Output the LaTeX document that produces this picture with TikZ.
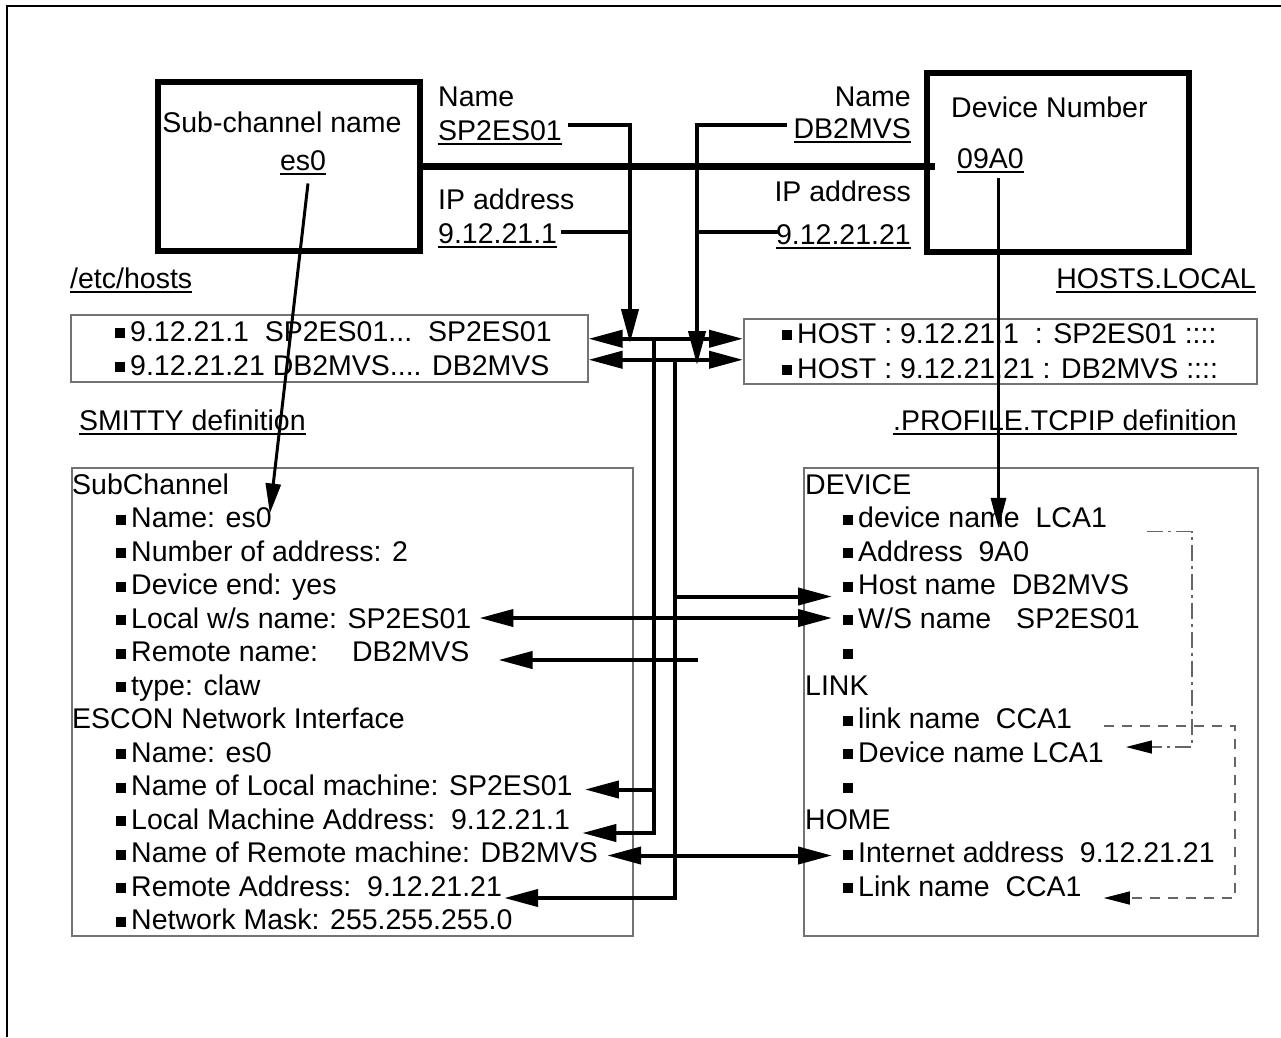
\documentclass[tikz,border=0pt]{standalone}
\usepackage{fontspec}
\setmainfont{Liberation Sans}
\usetikzlibrary{arrows.meta,positioning,calc}
\newsavebox{\ulbox}
\newcommand{\undl}[1]{\sbox{\ulbox}{#1}\rlap{\rule[-5pt]{\wd\ulbox}{2pt}}\usebox{\ulbox}}
\newcommand{\bul}{\rule[3pt]{10pt}{10pt}\hspace{5pt}}

\begin{document}
\begin{tikzpicture}[x=1pt,y=-1pt,
    every node/.style={font=\fontsize{28.5}{33.5}\selectfont,inner sep=0pt,text height=20.5pt,text depth=0pt},
    thickbox/.style={draw,line width=6pt},
    listbox/.style={draw=black!55,line width=1.5pt},
    wire/.style={line width=4pt},
    arr/.style={-{Triangle[length=34pt,width=17pt]}},
    darr/.style={{Triangle[length=34pt,width=17pt]}-{Triangle[length=34pt,width=17pt]}},
    pointer/.style={line width=3pt,-{Triangle[length=30pt,width=15pt]}},
    sarr/.style={-{Triangle[length=26pt,width=13pt,color=black]}},
    chainline/.style={draw=black!60,line width=1.3pt,dash pattern=on 16pt off 5pt on 3pt off 5pt},
    dashline/.style={draw=black!60,line width=1.3pt,dash pattern=on 10pt off 8pt}]
  \useasboundingbox (0,0) rectangle (1281,1037);
  \draw[line width=2pt] (7,1037) -- (7,6) -- (1281,6);

  %% Channel ends
  \node[thickbox,minimum width=262pt,minimum height=169pt,anchor=north west] (subbox) at (155,79) {};
  \node[thickbox,minimum width=262pt,minimum height=179pt,anchor=north west] (devbox) at (924,70) {};
  \node (subname) at (282,122) {Sub-channel name};
  \node (es) at (303,160) {\undl{es0}};
  \node[anchor=west] (devnum) at (951,107) {Device Number};
  \node[anchor=west] (devno) at (957,158) {\undl{09A0}};
  \draw[line width=6.5pt] (subbox.east) -- ($(subbox.east -| devbox.west)+(11,0)$);

  %% Link labels
  \node[anchor=west] (nameL) at (438,96) {Name};
  \node[anchor=west] (spname) at (438,130) {\undl{SP2ES01}};
  \node[anchor=west] (ipL) at (438,199) {IP address};
  \node[anchor=west] (spip) at (438,233) {\undl{9.12.21.1}};
  \node[anchor=east] (nameR) at (911,96) {Name};
  \node[anchor=east] (dbname) at (911,128) {\undl{DB2MVS}};
  \node[anchor=east] (ipR) at (911,191) {IP address};
  \node[anchor=east] (dbip) at (911,234) {\undl{9.12.21.21}};

  %% Host tables
  \node[anchor=west] (etchosts) at (70,278) {\undl{/etc/hosts}};
  \node[anchor=east] (hostslocal) at (1256,278) {\undl{HOSTS.LOCAL}};
  \node[listbox,minimum width=517pt,minimum height=67pt,anchor=north west] (hostsL) at (70,314) {};
  \node[listbox,minimum width=513pt,minimum height=65pt,anchor=north west] (hostsR) at (743,318) {};
  \node[anchor=west] (hl1) at (115,331) {\bul 9.12.21.1~~SP2ES01...~~SP2ES01};
  \node[anchor=west] (hl2) at (115,365) {\bul 9.12.21.21 DB2MVS.... DB2MVS};
  \node[anchor=west] (hr1) at (782,333) {\bul HOST : 9.12.21.1~~: SP2ES01 ::::};
  \node[anchor=west] (hr2) at (782,368) {\bul HOST : 9.12.21.21 : DB2MVS ::::};

  %% SMITTY definition
  \node[anchor=west] (smittyl) at (79,420) {\undl{SMITTY definition}};
  \node[listbox,minimum width=561pt,minimum height=468pt,anchor=north west] (smitty) at (71,467) {};
  \node[anchor=west] (subch) at (72,484) {SubChannel};
  \node[anchor=west] (scname) at (116,517.5) {\bul Name: es0};
  \node[anchor=west] (scnum) at (116,551) {\bul Number of address: 2};
  \node[anchor=west] (scdev) at (116,584.5) {\bul Device end: yes};
  \node[anchor=west] (sclocal) at (116,618) {\bul Local w/s name: SP2ES01};
  \node[anchor=west] (scremote) at (116,651.5) {\bul Remote name:\hspace{34pt}DB2MVS};
  \node[anchor=west] (sctype) at (116,685) {\bul type: claw};
  \node[anchor=west] (escon) at (72,718.5) {ESCON Network Interface};
  \node[anchor=west] (enname) at (116,752) {\bul Name: es0};
  \node[anchor=west] (enlname) at (116,785.5) {\bul Name of Local machine: SP2ES01};
  \node[anchor=west] (enladdr) at (116,819) {\bul Local Machine Address:~~9.12.21.1};
  \node[anchor=west] (enrname) at (116,852.5) {\bul Name of Remote machine: DB2MVS};
  \node[anchor=west] (enraddr) at (116,886) {\bul Remote Address:~~9.12.21.21};
  \node[anchor=west] (enmask) at (116,919.5) {\bul Network Mask: 255.255.255.0};

  %% .PROFILE.TCPIP definition
  \node[anchor=east] (profilel) at (1237,420) {\undl{.PROFILE.TCPIP definition}};
  \node[listbox,minimum width=454pt,minimum height=468pt,anchor=north west] (profile) at (803,467) {};
  \node[anchor=west] (device) at (805,484) {DEVICE};
  \node[anchor=west] (dvname) at (843,517.5) {\bul device name~~LCA1};
  \node[anchor=west] (dvaddr) at (843,551) {\bul Address~~9A0};
  \node[anchor=west] (dvhost) at (843,584.5) {\bul Host name~~DB2MVS};
  \node[anchor=west] (dvws) at (843,618) {\bul W/S name\hspace{25pt}SP2ES01};
  \node[anchor=west] (dvblank) at (843,651.5) {\bul};
  \node[anchor=west] (link) at (805,685) {LINK};
  \node[anchor=west] (lkname) at (843,718.5) {\bul link name~~CCA1};
  \node[anchor=west] (lkdev) at (843,752) {\bul Device name LCA1};
  \node[anchor=west] (lkblank) at (843,785.5) {\bul};
  \node[anchor=west] (home) at (805,819) {HOME};
  \node[anchor=west] (hmaddr) at (843,852.5) {\bul Internet address~~9.12.21.21};
  \node[anchor=west] (hmlink) at (843,886) {\bul Link name~~CCA1};

  %% junctions
  \coordinate (dropA) at (630,343);
  \coordinate (dropB) at (697,365);
  \coordinate (busA) at (654,338);
  \coordinate (busB) at (675,359);
  \coordinate (rmtEnd) at (698,660);
  \coordinate (chainC) at (1192,640);
  \coordinate (dashC) at (1235,810);

  %% names and addresses into the host tables
  \draw[wire,arr] ($(spname.east)+(6,-5)$) -| (dropA);
  \draw[wire] ($(spip.east)+(4,-1)$) -- ($(spip.east -| dropA)+(0,-1)$);
  \draw[wire,arr] ($(dbname.west)+(-6,-3)$) -| (dropB);
  \draw[wire] ($(dbip.west)+(2,-2)$) -- ($(dbip.west -| dropB)+(0,-2)$);
  \draw[wire,darr] ($(hostsL.east)+(0,-9.5)$) -- ($(hostsL.east -| hostsR.west)+(0,-9.5)$);
  \draw[wire,darr] ($(hostsL.east)+(0,11.5)$) -- ($(hostsL.east -| hostsR.west)+(0,11.5)$);

  %% host tables into the definitions
  \draw[wire,arr] (busA) |- ($(enladdr.east)+(12,14)$);
  \draw[wire,arr] ($(enlname.east -| busA)+(0,4)$) -- ($(enlname.east)+(12,4)$);
  \draw[wire,arr] (busB) |- ($(enraddr.east)+(2,12)$);
  \draw[wire,arr] ($(dvhost.west -| busB)+(0,12)$) -- ($(dvhost.west)+(-11,12)$);
  \draw[wire,darr] ($(sclocal.east)+(8,0)$) -- ($(sclocal.east -| dvws.west)+(-11,0)$);
  \draw[wire,arr] (rmtEnd) -- ($(scremote.east |- rmtEnd)+(29,0)$);
  \draw[wire,darr] ($(enrname.east)+(9,3)$) -- ($(enrname.east -| hmaddr.west)+(-11,3)$);

  %% sub-channel and device number
  \draw[pointer] ($(es.south)+(5,13)$) -- ($(scname.east)+(-2,-4)$);
  \coordinate (d09) at ($(devno.south)+(8,10)$);
  \draw[pointer] (d09) -- (d09 |- dvname.south);

  %% links inside the profile
  \draw[chainline,sarr] ($(dvname.east)+(40,14)$) -| (chainC) |- ($(lkdev.east)+(22,-5)$);
  \draw[dashline,sarr] ($(lkname.east)+(32,7.5)$) -| (dashC) |- ($(hmlink.east)+(22,12)$);
\end{tikzpicture}
\end{document}
